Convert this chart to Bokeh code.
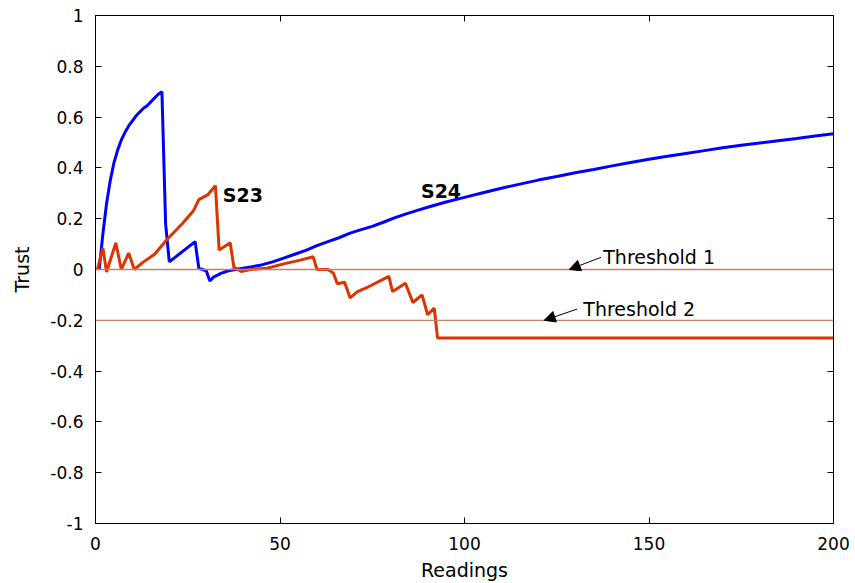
from bokeh.plotting import figure
from bokeh.models import (Range1d, FixedTicker, LinearAxis, CustomJSTickFormatter,
                          Arrow, NormalHead, Label, Span)
from bokeh.embed import file_html
from bokeh.resources import INLINE

# Trust value of node S24 over the readings
s24_x = [1, 2, 3, 4, 5, 6, 7, 8, 9, 10, 11, 12, 13, 14, 15, 16, 17, 18, 19, 20,
         27, 28, 30, 31, 32, 34, 36, 38, 40, 42, 45, 48, 51, 54, 57, 60, 63, 66,
         69, 72, 75, 78, 81, 84, 87, 90, 95, 100, 105, 110, 115, 120, 125, 130,
         135, 140, 145, 150, 155, 160, 165, 170, 175, 180, 185, 190, 195, 200]
s24_y = [0.0, 0.14, 0.26, 0.35, 0.42, 0.47, 0.51, 0.54, 0.565, 0.585, 0.605, 0.62,
         0.635, 0.645, 0.66, 0.675, 0.69, 0.70, 0.18, 0.03,
         0.11, 0.005, -0.005, -0.045, -0.03, -0.015, -0.005, 0.0, 0.005, 0.01,
         0.018, 0.03, 0.045, 0.06, 0.075, 0.094, 0.11, 0.125, 0.143, 0.157,
         0.17, 0.186, 0.203, 0.218, 0.232, 0.245, 0.266, 0.284, 0.302, 0.32,
         0.336, 0.352, 0.366, 0.381, 0.394, 0.408, 0.421, 0.434, 0.446, 0.457,
         0.468, 0.479, 0.489, 0.498, 0.507, 0.516, 0.526, 0.534]

# Trust value of node S23 over the readings
s23_x = [0.5, 2, 3, 5.5, 7, 9, 10.5, 13, 16, 19.5, 23.5, 26.5, 28, 30.5, 32.5,
         33.5, 36.5, 37.5, 39.5, 42, 46.5, 51, 55.5, 59, 60, 63, 64.5, 65.5,
         67.5, 69, 71, 74, 79.5, 80.5, 84, 86, 88.5, 90, 91.8, 92.7, 200]
s23_y = [0.0, 0.085, -0.01, 0.105, 0.0, 0.065, 0.0, 0.03, 0.06, 0.12, 0.18,
         0.23, 0.275, 0.295, 0.33, 0.077, 0.105, 0.01, -0.008, 0.0, 0.005,
         0.022, 0.037, 0.05, 0.0, 0.0, -0.015, -0.056, -0.05, -0.112, -0.087,
         -0.068, -0.027, -0.087, -0.054, -0.13, -0.1, -0.178, -0.152, -0.27,
         -0.27]

thresholds = [0.0, -0.2]
threshold_labels = ["Threshold 1", "Threshold 2"]

x_ticks = [0, 50, 100, 150, 200]
y_ticks = [-1, -0.8, -0.6, -0.4, -0.2, 0, 0.2, 0.4, 0.6, 0.8, 1]

FONT = "DejaVu Sans"

p = figure(width=855, height=583, output_backend="svg", toolbar_location=None,
           x_range=Range1d(0, 200), y_range=Range1d(-1, 1),
           min_border_left=95, min_border_right=22, min_border_top=15,
           min_border_bottom=59, outline_line_color="black",
           outline_line_width=1, background_fill_color="white",
           border_fill_color="white")
p.grid.visible = False

fmt = CustomJSTickFormatter(code="""
    const v = Math.round(tick * 10) / 10;
    return (Math.abs(v) < 1e-9) ? "0" : String(v);
""")
blank = CustomJSTickFormatter(code="return '';")

for ax in p.xaxis:
    ax.ticker = FixedTicker(ticks=x_ticks)
for ax in p.yaxis:
    ax.ticker = FixedTicker(ticks=y_ticks)
    ax.formatter = fmt

for ax in list(p.xaxis) + list(p.yaxis):
    ax.major_tick_in = 6
    ax.major_tick_out = 0
    ax.minor_tick_line_color = None
    ax.axis_line_color = "black"
    ax.major_tick_line_color = "black"
    ax.major_label_text_font = FONT
    ax.major_label_text_font_size = "17px"
    ax.major_label_text_color = "black"
    ax.axis_label_text_font = FONT
    ax.axis_label_text_font_size = "19px"
    ax.axis_label_text_font_style = "normal"
    ax.axis_label_text_color = "black"

p.xaxis.axis_label = "Readings"
p.yaxis.axis_label = "Trust"
p.xaxis.major_label_standoff = 13
p.yaxis.major_label_standoff = 12
p.xaxis.axis_label_standoff = 6
p.yaxis.axis_label_standoff = 14

# mirrored tick marks on the top and right edges
top = LinearAxis(ticker=FixedTicker(ticks=x_ticks), formatter=blank,
                 major_tick_in=6, major_tick_out=0, minor_tick_line_color=None,
                 axis_line_color="black", major_label_standoff=0)
right = LinearAxis(ticker=FixedTicker(ticks=y_ticks), formatter=blank,
                   major_tick_in=6, major_tick_out=0, minor_tick_line_color=None,
                   axis_line_color="black", major_label_standoff=0)
p.add_layout(top, "above")
p.add_layout(right, "right")

# threshold lines
for t in thresholds:
    p.add_layout(Span(location=t, dimension="width", line_color="#c9805f",
                      line_width=1.3))

p.line(s24_x, s24_y, line_color="#0000ff", line_width=3)
p.line(s23_x, s23_y, line_color="#dd3300", line_width=3)

p.add_layout(Label(x=34.5, y=0.295, text="S23", text_font=FONT,
                   text_font_size="19px", text_font_style="bold",
                   text_baseline="middle", text_color="black"))
p.add_layout(Label(x=88.2, y=0.308, text="S24", text_font=FONT,
                   text_font_size="19px", text_font_style="bold",
                   text_baseline="middle", text_color="black"))

# threshold annotations with arrows
label_pos = [(137.6, 0.05), (132.2, -0.155)]
arrow_start = [(137.0, 0.048), (130.5, -0.156)]
arrow_tip = [(128.4, 0.0), (121.6, -0.2)]
for (lx, ly), txt in zip(label_pos, threshold_labels):
    p.add_layout(Label(x=lx, y=ly, text=txt, text_font=FONT, text_font_size="19px",
                       text_baseline="middle", text_color="black"))
for (sx, sy), (tx, ty) in zip(arrow_start, arrow_tip):
    p.add_layout(Arrow(end=NormalHead(size=11, fill_color="black",
                                      line_color="black", line_width=1),
                       x_start=sx, y_start=sy, x_end=tx, y_end=ty,
                       line_color="black", line_width=1))

open("out.html", "w").write(file_html(p, INLINE))
